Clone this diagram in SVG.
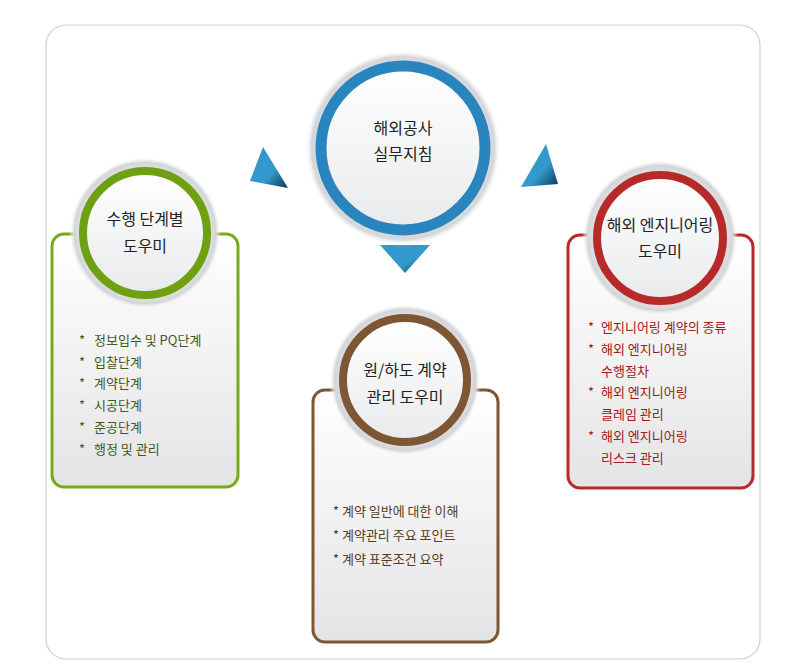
<svg xmlns="http://www.w3.org/2000/svg" width="800" height="671" viewBox="0 0 800 671">
<defs>
<radialGradient id="halo" cx="0.5" cy="0.5" r="0.5"><stop offset="0.8" stop-color="#e6e7e9"/><stop offset="0.93" stop-color="#d3d5d8"/><stop offset="1" stop-color="#ffffff" stop-opacity="0"/></radialGradient>
<linearGradient id="inner" x1="0" y1="0" x2="0" y2="1"><stop offset="0" stop-color="#ffffff"/><stop offset="1" stop-color="#e9eaec"/></linearGradient>
<linearGradient id="box" x1="0" y1="0" x2="0" y2="1"><stop offset="0" stop-color="#ffffff"/><stop offset="1" stop-color="#e4e4e6"/></linearGradient>
<linearGradient id="tri" x1="0" y1="0" x2="1" y2="1"><stop offset="0.6" stop-color="#3399cc"/><stop offset="1" stop-color="#0d3350"/></linearGradient>
</defs>
<style>
.t{font-family:"Noto Sans CJK KR","Noto Sans",sans-serif;font-size:16px;fill:#222;text-anchor:middle}
.l{font-family:"Noto Sans CJK KR","Noto Sans",sans-serif;font-size:13px}
.g{fill:#3d5a1c}.b{fill:#5a3a22}.r{fill:#a3161a}
</style>
<rect x="46" y="25" width="714" height="634" rx="20" fill="#fff" stroke="#cfcfcf" stroke-width="1.2"/>
<g id="connectors">
<polygon points="263,147 288,188 250,181" fill="url(#tri)"/>
<polygon points="546,144 558,184 521,187" fill="url(#tri)"/>
<polygon points="380,245 430,245 405,273" fill="url(#tri)"/>
</g>
<g id="n-left">
<rect x="52" y="234" width="186" height="253" rx="12" fill="url(#box)" stroke="#7aaa1c" stroke-width="3"/>
<circle cx="145" cy="233" r="76" fill="url(#halo)"/>
<circle cx="145" cy="233" r="62" fill="url(#inner)" stroke="#6fa012" stroke-width="8"/>
<text class="t" x="145" y="225">수행 단계별</text><text class="t" x="145" y="252">도우미</text>
<g class="l g"><text x="79" y="345">*</text><text x="94" y="345">정보입수 및 PQ단계</text><text x="79" y="367">*</text><text x="94" y="367">입찰단계</text><text x="79" y="388">*</text><text x="94" y="388">계약단계</text><text x="79" y="410">*</text><text x="94" y="410">시공단계</text><text x="79" y="432">*</text><text x="94" y="432">준공단계</text><text x="79" y="454">*</text><text x="94" y="454">행정 및 관리</text></g>
</g>
<g id="n-top">
<circle cx="403" cy="148" r="98" fill="url(#halo)"/>
<circle cx="403" cy="148" r="82" fill="url(#inner)" stroke="#2a85bf" stroke-width="11"/>
<text class="t" x="403" y="134">해외공사</text><text class="t" x="403" y="160">실무지침</text>
</g>
<g id="n-mid">
<rect x="313" y="390" width="185" height="252" rx="12" fill="url(#box)" stroke="#7e5634" stroke-width="3"/>
<circle cx="405" cy="380" r="76" fill="url(#halo)"/>
<circle cx="405" cy="380" r="62" fill="url(#inner)" stroke="#7e5634" stroke-width="8"/>
<text class="t" x="405" y="376">원/하도 계약</text><text class="t" x="405" y="403">관리 도우미</text>
<g class="l b"><text x="333" y="516">* 계약 일반에 대한 이해</text><text x="333" y="540">* 계약관리 주요 포인트</text><text x="333" y="564">* 계약 표준조건 요약</text></g>
</g>
<g id="n-right">
<rect x="568" y="235" width="185" height="253" rx="12" fill="url(#box)" stroke="#b82a2a" stroke-width="3"/>
<circle cx="660" cy="238" r="78" fill="url(#halo)"/>
<circle cx="660" cy="238" r="63" fill="url(#inner)" stroke="#b82a2a" stroke-width="8"/>
<text class="t" x="660" y="231">해외 엔지니어링</text><text class="t" x="660" y="257">도우미</text>
<g class="l r"><text x="588" y="332">*</text><text x="601" y="332">엔지니어링 계약의 종류</text><text x="588" y="354">*</text><text x="601" y="354">해외 엔지니어링</text><text x="601" y="376">수행절차</text><text x="588" y="397">*</text><text x="601" y="397">해외 엔지니어링</text><text x="601" y="419">클레임 관리</text><text x="588" y="441">*</text><text x="601" y="441">해외 엔지니어링</text><text x="601" y="463">리스크 관리</text></g>
</g>
</svg>
